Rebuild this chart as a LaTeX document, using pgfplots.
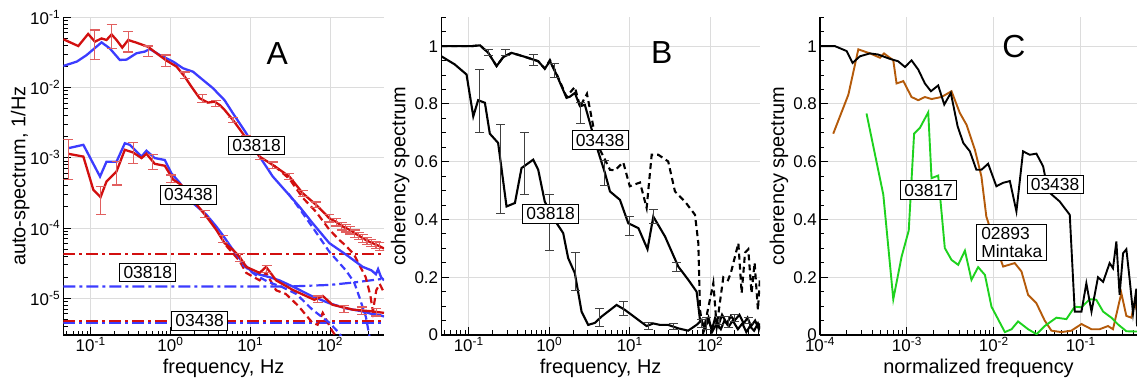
\documentclass[border=0pt]{standalone}
\usepackage{pgfplots}
\pgfplotsset{compat=1.18}
\usepackage{fontspec}
\setmainfont{Liberation Sans}
\definecolor{cred}{RGB}{210,15,15}
\definecolor{cblue}{RGB}{60,60,255}
\definecolor{cerr}{RGB}{225,95,95}
\definecolor{cgreen}{RGB}{30,210,30}
\definecolor{cbrown}{RGB}{180,90,10}
\definecolor{cgrid}{RGB}{220,220,220}
\newcommand{\labfont}{\fontsize{20}{23}\selectfont}
\pgfplotsset{
  panel/.style={scale only axis, height=317.7bp,
    axis x line*=bottom, axis y line*=left, axis line style={-, line width=1.2bp, black},
    grid=major, major grid style={draw=cgrid, line width=0.9bp},
    major tick length=8bp, minor tick length=4.5bp, tick align=inside,
    every tick/.style={black, line width=0.9bp},
    tick label style={font=\fontsize{17}{20}\selectfont},
    xticklabel style={inner ysep=2bp},
    yticklabel style={inner xsep=3bp},
    every axis x label/.style={at={([yshift=-23.5bp]axis description cs:0.5,0)}, anchor=north, inner sep=0pt, font=\labfont},
    clip mode=individual},
  cohy/.style={ymin=0, ymax=1.1, ytick={0,0.2,0.4,0.6,0.8,1}, yticklabels={0,0.2,0.4,0.6,0.8,1},
    minor ytick={0.05,0.1,0.15,0.25,0.3,0.35,0.45,0.5,0.55,0.65,0.7,0.75,0.85,0.9,0.95,1.05,1.1},
    ylabel={coherency spectrum},
    every axis y label/.style={at={([xshift=-31.5bp]axis description cs:0,0.5)}, rotate=90, anchor=south, inner sep=0pt, font=\labfont}},
  freqx/.style={xtick={0.1,1,10,100},
    xticklabels={10\textsuperscript{-1},10\textsuperscript{0},10\textsuperscript{1},10\textsuperscript{2}},
    minor xtick={0.05,0.06,0.07,0.08,0.09,0.2,0.3,0.4,0.5,0.6,0.7,0.8,0.9,2,3,4,5,6,7,8,9,20,30,40,50,60,70,80,90,200,300,400},
    xlabel={frequency, Hz}},
}
\tikzset{
  lbl/.style={draw=black, fill=white, line width=0.8bp, inner xsep=3.8bp, inner ysep=3.2bp, font=\fontsize{17.5}{19}\selectfont},
  plet/.style={font=\fontsize{32}{34}\selectfont, inner sep=0pt},
}
\begin{document}
\begin{tikzpicture}
\useasboundingbox (0,0) rectangle (1137bp,379bp);
% ---------------- Panel A ----------------
\begin{axis}[xmode=log, ymode=log, panel, freqx, at={(63.3bp,44bp)}, anchor=south west, width=320.7bp,
  xmin=0.0454, xmax=475, ymin=3.0e-6, ymax=0.1,
  ytick={1e-5,1e-4,1e-3,1e-2,1e-1},
  yticklabels={10\textsuperscript{-5},10\textsuperscript{-4},10\textsuperscript{-3},10\textsuperscript{-2},10\textsuperscript{-1}},
  minor ytick={4e-6,5e-6,6e-6,7e-6,8e-6,9e-6,2e-5,3e-5,4e-5,5e-5,6e-5,7e-5,8e-5,9e-5,2e-4,3e-4,4e-4,5e-4,6e-4,7e-4,8e-4,9e-4,0.002,0.003,0.004,0.005,0.006,0.007,0.008,0.009,0.02,0.03,0.04,0.05,0.06,0.07,0.08,0.09},
  ylabel={auto-spectrum, 1/Hz},
  every axis y label/.style={at={([xshift=-33.5bp]axis description cs:0,0.5)}, rotate=90, anchor=south, inner sep=0pt, font=\labfont}]
% dash-dot noise levels
\addplot[cred, line width=2.2bp, dash pattern=on 12bp off 4bp on 3bp off 4bp] coordinates {(0.0454,4.25e-5)(475,4.25e-5)};
\addplot[cblue, line width=2.2bp, dash pattern=on 12bp off 4bp on 3bp off 4bp] coordinates {(0.0454,1.47e-5)(30,1.47e-5)(100,1.55e-5)(200,1.68e-5)(475,1.9e-5)};
\addplot[cred, line width=2.2bp, dash pattern=on 12bp off 4bp on 3bp off 4bp] coordinates {(0.0454,4.68e-6)(475,4.68e-6)};
\addplot[cblue, line width=2.2bp, dash pattern=on 12bp off 4bp on 3bp off 4bp] coordinates {(0.0454,4.45e-6)(475,4.45e-6)};
% dashed corrected spectra
\addplot[cred, line width=2.2bp, dash pattern=on 7bp off 4bp] coordinates {(20,0.00077)(31,0.0005)(45.5,0.00027)(66.8,0.00017)(98,0.000095)(130,0.000068)(158,0.000056)(200,0.000042)(240,0.000028)(280,0.00002)(320,0.000011)(345,0.0000065)(380,0.000013)(420,0.000016)(475,0.000012)};
\addplot[cblue, line width=2.2bp, dash pattern=on 7bp off 4bp] coordinates {(30,0.00031)(41.3,0.00019)(60.6,0.000102)(98,0.000046)(158,0.000025)(200,0.000017)(232,0.0000106)(282,0.0000054)(310,0.000003)(330,0.0000022)};
\addplot[cred, line width=2.2bp, dash pattern=on 7bp off 4bp] coordinates {(5,0.000056)(7.35,0.000034)(8.9,0.000023)(13.1,0.000018)(15.8,0.000023)(21.1,0.000013)(28,0.0000115)(40,0.0000078)(60,0.0000045)(70,0.0000042)(81,0.0000062)(107,0.0000034)(130,0.0000025)};
\addplot[cblue, line width=2.2bp, dash pattern=on 7bp off 4bp] coordinates {(8,0.00003)(12,0.000021)(17,0.000017)(25,0.0000145)(38,0.0000115)(60,0.0000069)(98,0.0000045)(130,0.0000032)(150,0.0000025)};
% solid spectra
\addplot[cblue, line width=2.3bp] coordinates {(0.0454,0.0203)(0.067,0.0234)(0.089,0.029)(0.137,0.044)(0.174,0.036)(0.232,0.0247)(0.282,0.025)(0.376,0.0308)(0.477,0.0325)(0.551,0.0354)(0.735,0.029)(1.08,0.0234)(1.44,0.0188)(1.92,0.0168)(2.56,0.0128)(3.41,0.0098)(4.13,0.0078)(4.77,0.0066)(6.07,0.0043)(8.9,0.00224)(13.1,0.00104)(19.2,0.00054)(28.2,0.00033)(41.3,0.000202)(60.6,0.000117)(98,0.000061)(158,0.000042)(257,0.000028)(330,0.000025)(376,0.000022)(400,0.000026)(436,0.00002)(475,0.000018)};
\addplot[cred, line width=2.3bp] coordinates {(0.0454,0.0487)(0.07,0.039)(0.093,0.058)(0.113,0.045)(0.137,0.050)(0.158,0.0475)(0.183,0.057)(0.211,0.0475)(0.249,0.037)(0.295,0.0475)(0.376,0.0435)(0.525,0.038)(0.668,0.0308)(0.891,0.0242)(1.19,0.0199)(1.51,0.0143)(1.83,0.0103)(2.32,0.00705)(2.95,0.0061)(3.58,0.0063)(4.13,0.00565)(4.77,0.0048)(6.07,0.00346)(8.9,0.0019)(13.1,0.00104)(19.2,0.00079)(31,0.00054)(45.5,0.000313)(66.8,0.000214)(98,0.000138)(120,0.000122)(140,0.000107)(158,0.0001)(180,0.000093)(205,0.000084)(230,0.000078)(257,0.000072)(290,0.000066)(330,0.000062)(376,0.000058)(420,0.000055)(475,0.000051)};
\addplot[cblue, line width=2.3bp] coordinates {(0.0525,0.00137)(0.081,0.00153)(0.131,0.00054)(0.158,0.00088)(0.211,0.00088)(0.268,0.00161)(0.31,0.00153)(0.434,0.00104)(0.5,0.00126)(0.637,0.00099)(0.85,0.00093)(1.03,0.0006)(1.31,0.00044)(1.92,0.000226)(2.82,0.000155)(3.76,0.000105)(4.5,0.00008)(6.07,0.000049)(8.1,0.000032)(10.8,0.000023)(17.4,0.00002)(23.2,0.000018)(34.1,0.0000147)(60.6,0.0000106)(98,0.0000085)(158,0.0000072)(257,0.0000065)(330,0.000006)(413,0.0000058)(475,0.0000055)};
\addplot[cred, line width=2.3bp] coordinates {(0.0525,0.00114)(0.081,0.00104)(0.108,0.00035)(0.133,0.000275)(0.158,0.00046)(0.211,0.00064)(0.268,0.0013)(0.341,0.00119)(0.434,0.00099)(0.5,0.00114)(0.637,0.00082)(0.85,0.00077)(1.08,0.00049)(1.37,0.00041)(1.92,0.00025)(2.82,0.000146)(3.76,0.000094)(4.77,0.000061)(6.07,0.000049)(7.35,0.000039)(8.9,0.000028)(13.1,0.000023)(15.8,0.000028)(21.1,0.000018)(34,0.0000132)(63.6,0.0000095)(81,0.0000108)(107,0.0000081)(192,0.0000069)(340,0.0000065)(475,0.0000062)};
% error bars
\addplot[draw=none, mark=none, forget plot, error bars/.cd, y dir=both, y explicit,
  error bar style={draw=cerr, line width=1.2bp}, error mark options={draw=cerr, line width=1.2bp, mark size=5bp, rotate=90}]
  coordinates {
  (0.113,0.045) += (0,0.021) -= (0,0.020)
  (0.183,0.057) += (0,0.023) -= (0,0.021)
  (0.295,0.0475) += (0,0.0145) -= (0,0.0155)
  (0.525,0.033) += (0,0.006) -= (0,0.0055)
  (0.87,0.024) += (0,0.005) -= (0,0.0042)
  (1.51,0.015) += (0,0.0017) -= (0,0.0014)
  (2.5,0.0069) += (0,0.001) -= (0,0.0008)
  (3.7,0.0059) += (0,0.0006) -= (0,0.0005)
  (6.07,0.00346) +- (0,0.0003)
  (8.9,0.0019) +- (0,0.00018)
  (13.1,0.00104) +- (0,0.0001)
  (19.2,0.00079) +- (0,0.00008)
  (31,0.00054) +- (0,0.00005)
  (45.5,0.000313) +- (0,0.00003)
  (66.8,0.000214) +- (0,0.00002)
  (98,0.000138) +- (0,0.000016)
  (120,0.000122) +- (0,0.000015)
  (140,0.000107) +- (0,0.000013)
  (158,0.0001) +- (0,0.000012)
  (180,0.000093) +- (0,0.000011)
  (205,0.000084) +- (0,0.00001)
  (230,0.000078) +- (0,0.0000095)
  (257,0.000072) +- (0,0.000009)
  (290,0.000066) +- (0,0.000008)
  (330,0.000062) +- (0,0.0000075)
  (376,0.000058) +- (0,0.000007)
  (420,0.000055) +- (0,0.0000065)
  (0.0525,0.00114) += (0,0.00066) -= (0,0.00065)
  (0.133,0.000275) += (0,0.000115) -= (0,0.00012)
  (0.211,0.00064) += (0,0.00024) -= (0,0.00023)
  (0.341,0.00119) += (0,0.00046) -= (0,0.00037)
  (0.6,0.00088) += (0,0.00024) -= (0,0.00019)
  (1.03,0.0005) += (0,0.00007) -= (0,0.00006)
  (2.7,0.00016) +- (0,0.00002)
  (4.5,0.00007) +- (0,0.000008)
  (7.5,0.000038) +- (0,0.000005)
  (16,0.000026) +- (0,0.000003)
  (70,0.0000098) +- (0,0.000001)
  (150,0.000007) +- (0,0.0000008)
  (250,0.0000067) +- (0,0.0000008)
  (380,0.0000064) +- (0,0.0000008)
  };
\node[lbl] at (axis cs:12,0.0015) {03818};
\node[lbl] at (axis cs:1.68,0.000296) {03438};
\node[lbl] at (axis cs:0.52,0.0000234) {03818};
\node[lbl] at (axis cs:2.32,0.0000048) {03438};
\node[plet] at (rel axis cs:0.667,0.886) {A};
\end{axis}
% ---------------- Panel B ----------------
\begin{axis}[xmode=log, panel, freqx, cohy, at={(441.3bp,44bp)}, anchor=south west, width=318.7bp,
  xmin=0.0457, xmax=414]
\addplot[black, line width=2.1bp, dash pattern=on 6bp off 4bp] coordinates {(0.0457,1.0)(0.108,1.0)(0.138,1.003)(0.175,0.977)(0.222,0.931)(0.268,0.962)(0.34,0.977)(0.5,0.963)(0.73,0.948)(0.88,0.922)(1.02,0.952)(1.23,0.905)(1.64,0.825)(2.08,0.859)(2.41,0.79)(2.94,0.835)(3.52,0.723)(4.26,0.642)(5.68,0.572)(6.55,0.57)(8.3,0.598)(10,0.515)(13.4,0.528)(16.2,0.44)(18.7,0.624)(22.6,0.624)(30,0.601)(36.4,0.497)(48.5,0.462)(64.6,0.416)(71,0.318)(74.5,0.087)(82,0.01)(89,0.06)(109,0.18)(120,0.03)(145,0.2)(166,0.19)(180,0.215)(223,0.318)(245,0.145)(270,0.285)(296,0.297)(325,0.145)(355,0.25)(390,0.087)(414,0.2)};
\addplot[black, line width=2.1bp] coordinates {(0.0457,1.0)(0.108,1.0)(0.138,1.003)(0.175,0.977)(0.222,0.931)(0.268,0.962)(0.34,0.977)(0.5,0.963)(0.73,0.948)(0.88,0.922)(1.02,0.948)(1.23,0.902)(1.64,0.821)(1.8,0.825)(2.08,0.838)(2.41,0.792)(2.77,0.797)(3.2,0.734)(3.87,0.653)(4.92,0.561)(5.68,0.497)(7.55,0.468)(9.58,0.387)(12.8,0.37)(16.6,0.297)(19.6,0.41)(27.4,0.341)(40,0.237)(53.3,0.191)(67.6,0.15)(74.5,0.052)(86,0.029)(95,0.05)(105,0.02)(115,0.06)(125,0.03)(140,0.07)(160,0.04)(180,0.065)(200,0.05)(230,0.07)(260,0.04)(290,0.06)(320,0.03)(360,0.05)(400,0.02)(414,0.04)};
\addplot[black, line width=2.1bp] coordinates {(0.0457,0.965)(0.067,0.937)(0.094,0.902)(0.114,0.757)(0.131,0.813)(0.159,0.804)(0.183,0.697)(0.232,0.665)(0.295,0.445)(0.375,0.457)(0.453,0.578)(0.632,0.607)(0.73,0.572)(0.88,0.462)(1.12,0.405)(1.49,0.353)(1.72,0.266)(2.08,0.214)(2.52,0.081)(3.05,0.035)(3.69,0.042)(4.47,0.064)(6.86,0.104)(8.7,0.087)(12.8,0.052)(16.2,0.031)(19.6,0.04)(23.7,0.035)(30,0.035)(40,0.023)(53,0.015)(67.6,0.035)(78,0.052)(85,0.02)(95,0.06)(105,0.01)(120,0.04)(135,0.02)(150,0.05)(170,0.03)(190,0.05)(220,0.02)(250,0.04)(280,0.01)(310,0.03)(350,0.015)(390,0.04)(414,0.02)};
\addplot[draw=none, mark=none, forget plot, error bars/.cd, y dir=both, y explicit,
  error bar style={draw=black!75, line width=1bp}, error mark options={draw=black!75, line width=1bp, mark size=4.5bp, rotate=90}]
  coordinates {
  (0.175,0.978) +- (0,0.012)
  (0.29,0.978) +- (0,0.009)
  (0.63,0.952) +- (0,0.018)
  (1.15,0.915) +- (0,0.025)
  (2.45,0.769) +- (0,0.037)
  (4.92,0.56) +- (0,0.043)
  (9.8,0.377) +- (0,0.034)
  (19.6,0.41) +- (0,0.024)
  (38,0.236) +- (0,0.016)
  (78,0.04) +- (0,0.015)
  (130,0.05) +- (0,0.015)
  (200,0.06) +- (0,0.012)
  (300,0.05) +- (0,0.01)
  (0.138,0.81) +- (0,0.109)
  (0.25,0.575) +- (0,0.153)
  (0.49,0.595) +- (0,0.107)
  (1.0,0.39) +- (0,0.096)
  (2.1,0.22) +- (0,0.066)
  (4.2,0.062) +- (0,0.031)
  (8.4,0.093) +- (0,0.024)
  (17,0.03) +- (0,0.012)
  (35,0.03) +- (0,0.01)
  (90,0.04) +- (0,0.02)
  (170,0.045) +- (0,0.02)
  };
\node[lbl] at (axis cs:4.27,0.675) {03438};
\node[lbl] at (axis cs:1.04,0.42) {03818};
\node[plet] at (rel axis cs:0.692,0.89) {B};
\end{axis}
% ---------------- Panel C ----------------
\begin{axis}[xmode=log, panel, cohy, at={(820bp,44bp)}, anchor=south west, width=317bp,
  xmin=1e-4, xmax=0.444, xtick={1e-4,1e-3,1e-2,1e-1},
  xticklabels={10\textsuperscript{-4},10\textsuperscript{-3},10\textsuperscript{-2},10\textsuperscript{-1}},
  minor xtick={2e-4,3e-4,4e-4,5e-4,6e-4,7e-4,8e-4,9e-4,0.002,0.003,0.004,0.005,0.006,0.007,0.008,0.009,0.02,0.03,0.04,0.05,0.06,0.07,0.08,0.09,0.2,0.3,0.4},
  xlabel={normalized frequency}]
\addplot[cbrown, line width=1.9bp] coordinates {(1.42e-4,0.697)(2.12e-4,0.832)(2.76e-4,0.989)(3.76e-4,0.975)(4.9e-4,0.96)(5.45e-4,0.975)(6.97e-4,0.951)(7.6e-4,0.871)(9.1e-4,0.879)(1.13e-3,0.824)(1.35e-3,0.813)(1.61e-3,0.824)(1.92e-3,0.817)(2.5e-3,0.824)(3.26e-3,0.844)(4.06e-3,0.769)(4.85e-3,0.728)(6.05e-3,0.642)(7.2e-3,0.549)(8.2e-3,0.41)(0.0103,0.318)(0.0128,0.237)(0.0174,0.249)(0.0208,0.22)(0.0248,0.139)(0.0309,0.11)(0.0385,0.05)(0.046,0.015)(0.06,0.01)(0.078,0.015)(0.102,0.038)(0.133,0.02)(0.165,0.02)(0.206,0.031)(0.235,0.02)(0.293,0.145)(0.335,0.066)(0.383,0.06)(0.42,0.12)(0.444,0.08)};
\addplot[cgreen, line width=1.9bp] coordinates {(3.43e-4,0.767)(5.35e-4,0.486)(6.97e-4,0.124)(8.7e-4,0.272)(1.05e-3,0.362)(1.21e-3,0.697)(1.41e-3,0.717)(1.76e-3,0.771)(1.92e-3,0.543)(2.29e-3,0.552)(2.73e-3,0.301)(3.26e-3,0.26)(3.89e-3,0.243)(4.65e-3,0.292)(5.53e-3,0.191)(6.6e-3,0.235)(7.9e-3,0.208)(9.4e-3,0.098)(0.0134,0.01)(0.016,0.02)(0.019,0.047)(0.0248,0.02)(0.031,0.003)(0.0385,0.031)(0.0525,0.06)(0.0684,0.055)(0.0853,0.098)(0.102,0.096)(0.127,0.124)(0.151,0.122)(0.181,0.081)(0.225,0.06)(0.27,0.036)(0.335,0.013)(0.444,0.012)};
\addplot[black, line width=1.9bp] coordinates {(1.0e-4,1.0)(1.49e-4,1.0)(2.03e-4,0.983)(2.37e-4,0.942)(2.88e-4,0.965)(3.76e-4,0.975)(4.68e-4,0.971)(6.38e-4,0.956)(7.9e-4,0.948)(9.5e-4,0.928)(1.13e-3,0.951)(1.35e-3,0.919)(1.61e-3,0.871)(1.89e-3,0.844)(2.29e-3,0.864)(2.69e-3,0.798)(3.2e-3,0.838)(3.83e-3,0.723)(4.45e-3,0.665)(5.3e-3,0.636)(6.3e-3,0.572)(7.2e-3,0.572)(8.6e-3,0.593)(0.0107,0.515)(0.0128,0.527)(0.0153,0.533)(0.0182,0.428)(0.0217,0.636)(0.0259,0.624)(0.0309,0.628)(0.0369,0.584)(0.0422,0.497)(0.0574,0.462)(0.0748,0.416)(0.0853,0.081)(0.102,0.081)(0.116,0.179)(0.133,0.081)(0.158,0.2)(0.181,0.184)(0.215,0.249)(0.235,0.231)(0.257,0.324)(0.28,0.139)(0.307,0.283)(0.335,0.297)(0.366,0.191)(0.4,0.075)(0.436,0.16)(0.444,0.03)};
\node[lbl] at (axis cs:0.00178,0.502) {03817};
\node[lbl] at (axis cs:0.0507,0.521) {03438};
\node[lbl, align=left, font=\fontsize{17.5}{18}\selectfont, inner xsep=4.5bp] at (axis cs:0.0161,0.321) {02893\\Mintaka};
\node[plet] at (rel axis cs:0.612,0.907) {C};
\end{axis}
\end{tikzpicture}
\end{document}
